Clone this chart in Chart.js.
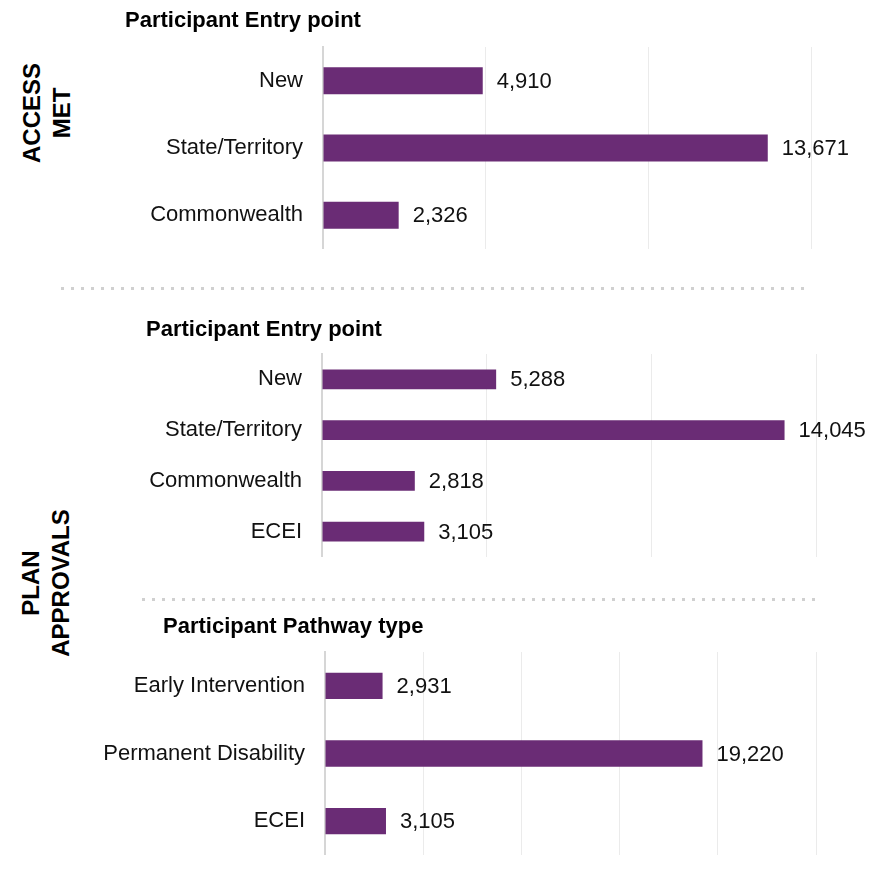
<!DOCTYPE html>
<html lang="en">
<head>
  <meta charset="UTF-8">
  <title>Access met and plan approvals</title>
  <script src="https://cdn.jsdelivr.net/npm/chart.js@4.4.1/dist/chart.umd.min.js"></script>
  <style>
    *{box-sizing:border-box}
    body{margin:0;background:#fff;font-family:"Liberation Sans",Arial,sans-serif;color:#000}
    #wrap{position:relative;width:883px;height:871px;overflow:hidden}
    canvas{position:absolute;left:0}
    .side{position:absolute;width:200px;height:60px;transform:rotate(-90deg);text-align:center;font-weight:700;font-size:24px;line-height:30px;color:#000}
    .sep{position:absolute;height:3px;background:repeating-linear-gradient(to right,#d0d0d0 0 3px,transparent 3px 10px)}
  </style>
</head>
<body>
<div id="wrap">
  <div class="side" style="left:-53px;top:83px">ACCESS<br>MET</div>
  <div class="side" style="left:-54px;top:553px">PLAN<br>APPROVALS</div>

  <canvas id="accessChart" width="883" height="249" style="top:0;width:883px;height:249px"></canvas>
  <div class="sep" style="left:61px;width:748px;top:287px"></div>
  <canvas id="entryChart" width="883" height="257" style="top:300px;width:883px;height:257px"></canvas>
  <div class="sep" style="left:142px;width:677px;top:598px"></div>
  <canvas id="pathwayChart" width="883" height="255" style="top:600px;width:883px;height:255px"></canvas>
</div>

<script>
/****************  DATA  ****************/
// Access met – participant entry point
const accessLabels=['New','State/Territory','Commonwealth'];
const accessValues=[4910,13671,2326];
// Plan approvals – participant entry point
const entryLabels=['New','State/Territory','Commonwealth','ECEI'];
const entryValues=[5288,14045,2818,3105];
// Plan approvals – participant pathway type
const pathwayLabels=['Early Intervention','Permanent Disability','ECEI'];
const pathwayValues=[2931,19220,3105];

/****************  SHARED STYLE  ****************/
const PURPLE='#6a2c75';
const FONT='"Liberation Sans",Arial,sans-serif';
Chart.defaults.font.family=FONT;
Chart.defaults.color='#000';

// draws "4,910" etc just past the end of each bar
const valueLabels={
  id:'valueLabels',
  afterDatasetsDraw(chart){
    const ctx=chart.ctx;
    ctx.save();
    ctx.font='22px '+FONT;
    ctx.fillStyle='#111';
    ctx.textAlign='left';
    ctx.textBaseline='middle';
    chart.getDatasetMeta(0).data.forEach((bar,i)=>{
      const v=chart.data.datasets[0].data[i];
      ctx.fillText(v.toLocaleString('en-US'),bar.x+14,bar.y+1);
    });
    ctx.restore();
  }
};

// bold heading above each panel, left aligned at its own x
const panelTitle={
  id:'panelTitle',
  afterDraw(chart,args,opts){
    const ctx=chart.ctx;
    ctx.save();
    ctx.font='bold 22px '+FONT;
    ctx.fillStyle='#000';
    ctx.textAlign='left';
    ctx.textBaseline='middle';
    ctx.fillText(opts.text,opts.x,opts.y);
    ctx.restore();
  }
};

function makeChart(id,labels,values,o){
  return new Chart(document.getElementById(id),{
    type:'bar',
    data:{labels:labels,datasets:[{data:values,backgroundColor:PURPLE,borderWidth:0,
      barPercentage:o.bar,categoryPercentage:1}]},
    options:{
      indexAxis:'y',responsive:false,animation:false,
      layout:{padding:{left:0,right:o.right,top:o.top,bottom:0}},
      plugins:{
        legend:{display:false},tooltip:{enabled:false},
        panelTitle:{text:o.title,x:o.titleX,y:o.titleY}
      },
      scales:{
        x:{min:0,max:o.max,ticks:{display:false,stepSize:5000},
          grid:{color:'#ebebeb',lineWidth:1,drawTicks:false},
          border:{display:false},
          afterFit(s){s.height=0;}},
        y:{ticks:{padding:20,font:{size:22},color:'#111'},
          grid:{display:false,drawTicks:false},
          border:{color:'#d6d6d6',width:2},
          afterFit(s){s.width=o.axisX;s.paddingTop=0;s.paddingBottom=0;}}
      }
    },
    plugins:[valueLabels,panelTitle]
  });
}

makeChart('accessChart',accessLabels,accessValues,
  {title:'Participant Entry point',titleX:125,titleY:21,axisX:323,right:72,top:47,max:15000,bar:0.4});
makeChart('entryChart',entryLabels,entryValues,
  {title:'Participant Entry point',titleX:146,titleY:30,axisX:322,right:67,top:54,max:15000,bar:0.39});
makeChart('pathwayChart',pathwayLabels,pathwayValues,
  {title:'Participant Pathway type',titleX:163,titleY:27,axisX:325,right:67,top:52,max:25000,bar:0.39});
</script>
</body>
</html>
